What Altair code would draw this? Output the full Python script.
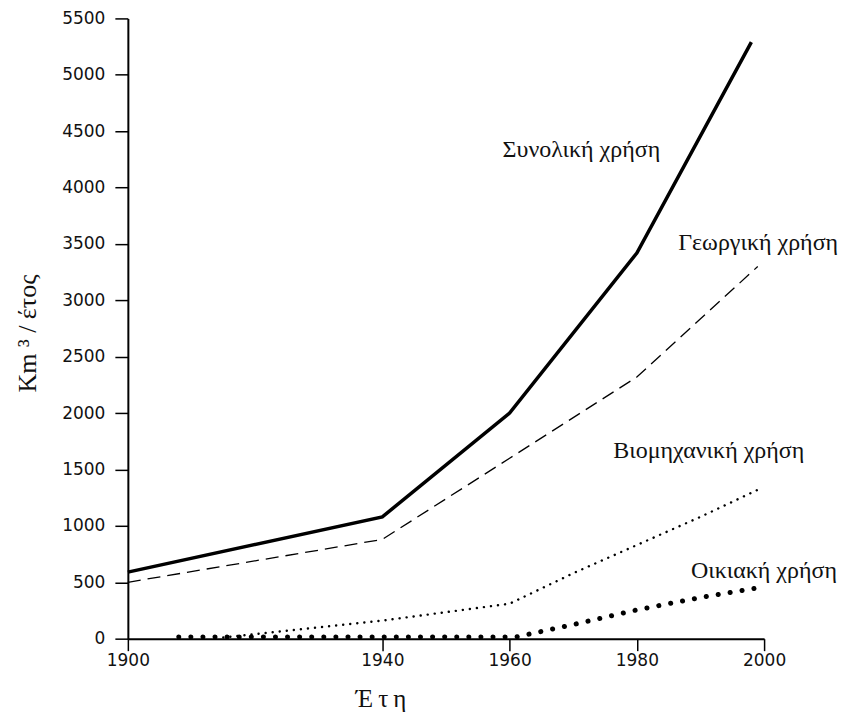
import altair as alt
import pandas as pd

# ---- data ----
total_years = [1900, 1940, 1960, 1980, 1998]
total_vals = [590, 1080, 2000, 3420, 5290]

agri_years = [1900, 1940, 1960, 1980, 1999]
agri_vals = [500, 880, 1600, 2320, 3300]

ind_years = [1915, 1940, 1960, 1970, 1980, 1990, 1999]
ind_vals = [10, 160, 310, 580, 830, 1080, 1320]

dom_years = [1908, 1940, 1961, 1970, 1980, 1990, 1999]
dom_vals = [15, 15, 15, 125, 255, 365, 450]

label_texts = ["Συνολική χρήση", "Γεωργική χρήση", "Βιομηχανική χρήση", "Οικιακή χρήση"]
label_years = [1958.9, 1986.5, 1976.3, 1988.5]
label_vals = [4330, 3510, 1660, 600]

x_ticks = [1900, 1940, 1960, 1980, 2000]
y_ticks = list(range(0, 5501, 500))

# ---- tables ----
def frame(years, vals):
    return pd.DataFrame({"year": years, "value": vals})

df_total = frame(total_years, total_vals)
df_agri = frame(agri_years, agri_vals)
df_ind = frame(ind_years, ind_vals)
df_dom = frame(dom_years, dom_vals)
df_lab = pd.DataFrame({"label": label_texts, "year": label_years, "value": label_vals})

xscale = alt.Scale(domain=[1900, 2000], nice=False, zero=False)
yscale = alt.Scale(domain=[0, 5500], nice=False)

x_enc = alt.X(
    "year:Q", scale=xscale,
    axis=alt.Axis(
        values=x_ticks, format="d", title="Έ\u2009τ\u2009η", labelFlush=False,
        titleX=253, titleY=68, titleAlign="center", titleBaseline="alphabetic",
        titleFont="Liberation Serif", titleFontSize=25, titleFontWeight="normal",
        titleColor="#111",
        labelFont="DejaVu Sans", labelFontSize=17, labelColor="#111",
        tickSize=12, labelPadding=2, domainWidth=2, tickWidth=1.5,
    ),
)
y_enc = alt.Y(
    "value:Q", scale=yscale,
    axis=alt.Axis(
        values=y_ticks, format="d", title="Km ³ / έτος",
        titleX=-100, titleY=315, titleAlign="center", titleBaseline="middle",
        titleAngle=270, titleColor="#111",
        titleFont="Liberation Serif", titleFontSize=26, titleFontWeight="normal",
        labelFont="DejaVu Sans", labelFontSize=17, labelColor="#111",
        tickSize=13, labelPadding=10, domainWidth=2, tickWidth=1.5,
    ),
)

total = alt.Chart(df_total).mark_line(color="black", strokeWidth=3.5).encode(x=x_enc, y=y_enc)
agri = alt.Chart(df_agri).mark_line(color="black", strokeWidth=1.3, strokeDash=[13, 7]).encode(x="year:Q", y="value:Q")
ind = alt.Chart(df_ind).mark_line(color="black", strokeWidth=2.4, strokeDash=[0.1, 7], strokeCap="round").encode(x="year:Q", y="value:Q")
dom = alt.Chart(df_dom).mark_line(color="black", strokeWidth=5, strokeDash=[0.1, 12], strokeCap="round").encode(x="year:Q", y="value:Q")

labels = alt.Chart(df_lab).mark_text(
    align="left", baseline="middle", font="Liberation Serif", fontSize=24, color="#111"
).encode(x="year:Q", y="value:Q", text="label:N")

chart = alt.layer(total, agri, ind, dom, labels).properties(
    width=637, height=621,
    autosize=alt.AutoSizeParams(type="none"),
    padding={"left": 120, "top": 10, "right": 74, "bottom": 75},
).configure_view(stroke=None).configure_axis(
    grid=False, domainColor="black", tickColor="black"
)

chart.save("out.html", embed_options={"renderer": "svg", "actions": False})
